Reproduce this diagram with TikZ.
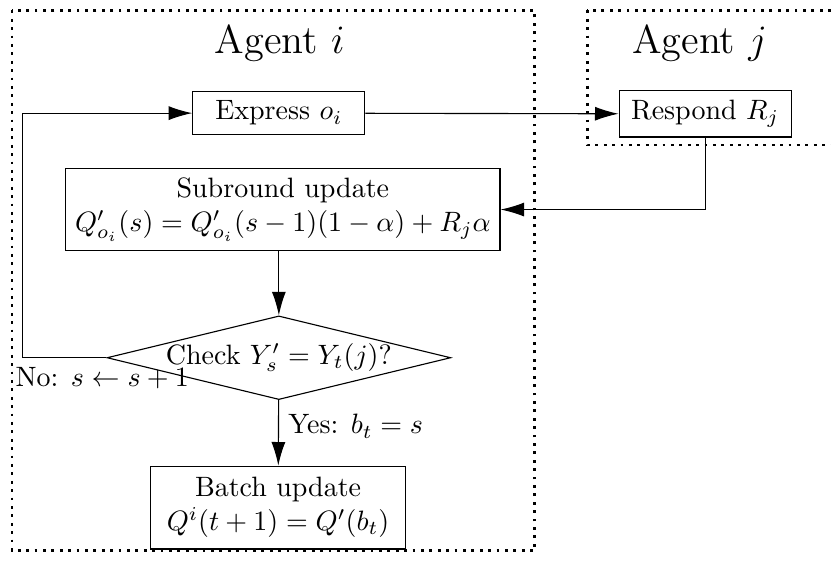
\documentclass[tikz,border=0pt]{standalone}
\usepackage{amsmath}
\usepackage{amssymb}
\usetikzlibrary{arrows.meta}
\usetikzlibrary{shapes.geometric}

\tikzset{
  agentbox/.style={line width=1pt, dotted},
  stepbox/.style={draw, align=center},
}

\begin{document}
\begin{tikzpicture}[>={Latex[length=8.4pt,width=5pt]}]
    \useasboundingbox (0,0) rectangle (10.43,-7.05);
    % agents
    \draw[agentbox] (0.15,-0.13) rectangle (6.71,-6.91);
    \draw[agentbox] (7.37,-0.13) rectangle (10.9,-1.82);
    \node (Ai) at (3.51,-0.54) {\Large Agent $i$};
    \node (Aj) at (8.78,-0.54) {\Large Agent $j$};
    % steps
    \node[stepbox, minimum width=2.16cm] (E) at (3.50,-1.42) {Express $o_i$};
    \node[stepbox, minimum width=2.16cm] (R) at (8.85,-1.43) {Respond $R_j$};
    \node[stepbox] (S) at (3.55,-2.63)
      {Subround update\\ $Q'_{o_i}(s) = Q'_{o_i}(s-1)(1-\alpha) + R_j\alpha$};
    \node[draw, diamond, aspect=4.2, inner sep=0pt, minimum width=4.29cm,
      minimum height=1.05cm] (C) at (3.50,-4.49) {Check $Y'_s = Y_t(j)$?};
    \node[stepbox, minimum width=3.2cm, minimum height=1.04cm] (B) at (3.49,-6.37)
      {Batch update\\ $Q^i(t+1) = Q'(b_t)$};
    \coordinate (L) at (0.28,-4.49);
    % flow
    \draw (E) edge[->] (R);
    \draw[->] (R.south) |- (S.east);
    \draw[->] (S.south -| C.north) -- (C.north);
    \draw (C) edge[->] node[right, pos=0.4] {Yes: $b_t = s$} (B);
    \draw[->] (C.west) -- node[below, pos=0.05] {No: $s \leftarrow s+1$} (L) |- (E.west);
\end{tikzpicture}
\end{document}
